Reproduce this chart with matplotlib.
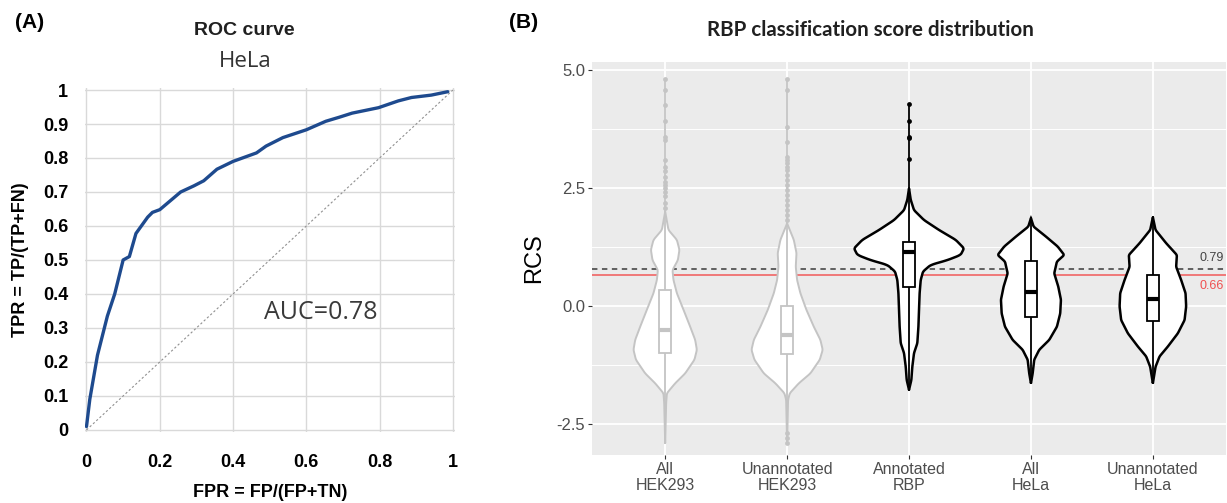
import numpy as np
import matplotlib
matplotlib.use("Agg")
import matplotlib.pyplot as plt

# ---------------- Data: ROC curve (panel A) ----------------
roc_fpr = [0.0, 0.009, 0.03, 0.057, 0.077, 0.10, 0.117, 0.135, 0.167, 0.18, 0.20,
           0.257, 0.293, 0.32, 0.356, 0.40, 0.464, 0.49, 0.536, 0.60, 0.653, 0.69,
           0.725, 0.797, 0.851, 0.887, 0.941, 0.986]
roc_tpr = [0.01, 0.09, 0.22, 0.335, 0.40, 0.50, 0.51, 0.578, 0.626, 0.64, 0.648,
           0.70, 0.718, 0.733, 0.767, 0.79, 0.815, 0.835, 0.86, 0.883, 0.908, 0.92,
           0.932, 0.948, 0.968, 0.978, 0.985, 0.995]
roc_ticks = [0, 0.1, 0.2, 0.3, 0.4, 0.5, 0.6, 0.7, 0.8, 0.9, 1]
roc_xticks = [0, 0.2, 0.4, 0.6, 0.8, 1]
roc_xtick_labels = ["0", "0.2", "0.4", "0.6", "0.8", "1"]
roc_ytick_labels = ["0", "0.1", "0.2", "0.3", "0.4", "0.5", "0.6", "0.7", "0.8", "0.9", "1"]
auc_text = "AUC=0.78"

# ---------------- Data: violins (panel B) ----------------
categories = ["All\nHEK293", "Unannotated\nHEK293", "Annotated\nRBP", "All\nHeLa", "Unannotated\nHeLa"]

hek_all_y = [2.0, 1.61, 1.40, 1.19, 0.97, 0.76, 0.55, 0.27, -0.08, -0.44, -0.72, -0.93, -1.14, -1.43, -1.64, -1.85, -2.06, -2.91]
hek_all_w = [0.0, 0.027, 0.096, 0.117, 0.104, 0.060, 0.068, 0.096, 0.150, 0.205, 0.246, 0.260, 0.240, 0.164, 0.082, 0.014, 0.008, 0.0]

hek_un_y = [1.75, 1.61, 1.40, 1.12, 0.83, 0.55, 0.27, -0.08, -0.44, -0.72, -0.93, -1.14, -1.43, -1.64, -1.85, -1.99, -2.91]
hek_un_w = [0.0, 0.022, 0.055, 0.077, 0.071, 0.082, 0.109, 0.158, 0.219, 0.273, 0.292, 0.268, 0.191, 0.096, 0.022, 0.008, 0.0]

rbp_y = [2.49, 2.25, 2.03, 1.82, 1.61, 1.40, 1.22, 1.08, 0.97, 0.87, 0.73, 0.55, 0.27, -0.08, -0.44, -0.79, -1.00, -1.29, -1.57, -1.78]
rbp_w = [0.0, 0.014, 0.041, 0.123, 0.246, 0.383, 0.451, 0.423, 0.314, 0.178, 0.115, 0.096, 0.087, 0.082, 0.077, 0.068, 0.041, 0.027, 0.019, 0.0]

hela_all_y = [1.86, 1.68, 1.47, 1.26, 1.08, 0.94, 0.69, 0.41, 0.13, -0.16, -0.44, -0.72, -0.93, -1.14, -1.43, -1.64]
hela_all_w = [0.0, 0.022, 0.123, 0.219, 0.273, 0.213, 0.191, 0.224, 0.246, 0.240, 0.213, 0.150, 0.068, 0.027, 0.014, 0.0]

hela_un_y = [1.88, 1.61, 1.33, 1.08, 0.83, 0.55, 0.27, -0.01, -0.30, -0.58, -0.86, -1.07, -1.29, -1.64]
hela_un_w = [0.0, 0.022, 0.109, 0.197, 0.191, 0.232, 0.268, 0.273, 0.260, 0.205, 0.123, 0.055, 0.022, 0.0]

violin_y = [hek_all_y, hek_un_y, rbp_y, hela_all_y, hela_un_y]
violin_w = [hek_all_w, hek_un_w, rbp_w, hela_all_w, hela_un_w]

box_q1 = [-0.99, -1.02, 0.40, -0.23, -0.31]
box_med = [-0.51, -0.61, 1.14, 0.29, 0.15]
box_q3 = [0.34, 0.00, 1.36, 0.96, 0.66]
whisk_lo = [-2.91, -1.99, -1.78, -1.64, -1.64]
whisk_hi = [2.0, 1.75, 2.49, 1.86, 1.88]

outliers = [
    [4.82, 4.58, 4.26, 3.91, 3.59, 3.52, 3.09, 2.95, 2.85, 2.74, 2.63, 2.56, 2.49, 2.42, 2.33, 2.18, 2.07],
    [4.82, 4.58, 3.80, 3.48, 3.16, 3.09, 3.02, 2.95, 2.88, 2.78, 2.67, 2.56, 2.46, 2.35, 2.25, 2.14, 2.03, 1.93, 1.82, -2.70, -2.80, -2.91],
    [4.27, 3.91, 3.59, 3.55, 3.11],
    [],
    [],
]
series_colors = ["#c4c4c4", "#c4c4c4", "black", "black", "black"]

thresh_best = 0.79
thresh_red = 0.66
y_ticks_b = [-2.5, 0.0, 2.5, 5.0]
y_minor_b = [-1.25, 1.25, 3.75]

# ---------------- Figure ----------------
fig = plt.figure(figsize=(12.27, 5.03), dpi=100)
fig.patch.set_facecolor("white")

# ===== Panel A =====
axA = fig.add_axes([0.0693, 0.1412, 0.3016, 0.6839])
axA.set_xlim(-0.004, 1.006)
axA.set_ylim(-0.006, 1.006)
for s in axA.spines.values():
    s.set_visible(False)
axA.set_xticks(roc_xticks)
axA.set_xticklabels(roc_xtick_labels, fontsize=13, fontweight="bold", family="Liberation Sans")
axA.set_yticks(roc_ticks)
axA.set_yticklabels(roc_ytick_labels, fontsize=13, fontweight="bold", family="Liberation Sans")
axA.tick_params(length=0, pad=12)
axA.tick_params(axis="x", pad=16)
axA.grid(True, color="#d9d9d9", lw=1.0)
axA.set_axisbelow(True)
axA.plot([0, 1], [0, 1], ls=(0, (2, 2)), color="#909090", lw=0.8)
axA.plot(roc_fpr, roc_tpr, color="#1e4a8e", lw=2.4, solid_capstyle="round")
axA.text(0.64, 0.345, auc_text, fontsize=18, family="Open Sans", color="#3a3a3a",
         ha="center", va="center")
axA.set_xlabel("FPR = FP/(FP+TN)", fontsize=13, fontweight="bold", family="Liberation Sans", labelpad=9)
axA.set_ylabel("TPR = TP/(TP+FN)", fontsize=13, fontweight="bold", family="Liberation Sans", labelpad=10)
fig.text(0.1995, 0.94, "ROC curve", fontsize=14, fontweight="bold", family="Liberation Sans",
         ha="center", va="center", color="#202020")
fig.text(0.1995, 0.878, "HeLa", fontsize=16, family="Open Sans", ha="center", va="center", color="#333333")
fig.text(0.012, 0.955, "(A)", fontsize=15, fontweight="bold", family="Liberation Sans", ha="left", va="center")

# ===== Panel B =====
axB = fig.add_axes([0.4825, 0.0954, 0.5167, 0.7813])
axB.set_facecolor("#EBEBEB")
for s in axB.spines.values():
    s.set_visible(False)
axB.set_xlim(0.4, 5.6)
axB.set_ylim(-3.16, 5.17)
positions = np.arange(1, len(categories) + 1)
for yv in y_ticks_b:
    axB.axhline(yv, color="white", lw=1.3, zorder=0)
for yv in y_minor_b:
    axB.axhline(yv, color="white", lw=0.7, zorder=0)
for xv in positions:
    axB.axvline(xv, color="white", lw=1.3, zorder=0)

axB.axhline(thresh_best, color="#555555", lw=1.3, ls=(0, (3, 2.5)), zorder=1)
axB.axhline(thresh_red, color="#f07878", lw=1.4, zorder=1)

for i, pos in enumerate(positions):
    col = series_colors[i]
    ys = np.array(violin_y[i])
    ws = np.array(violin_w[i])
    order = np.argsort(ys)
    grid = np.linspace(ys.min(), ys.max(), 400)
    w = np.interp(grid, ys[order], ws[order])
    k = np.ones(7) / 7
    wpad = np.pad(w, 3, mode="edge")
    w = np.convolve(wpad, k, mode="valid")
    w[0] = 0
    w[-1] = 0
    lwv = 1.4 if col != "black" else 1.8
    top = max([whisk_hi[i]] + [o for o in outliers[i]])
    bot = min([whisk_lo[i]] + [o for o in outliers[i]])
    axB.plot([pos, pos], [bot, top], color=col, lw=1.3, zorder=2)
    xs = np.concatenate([pos - w, (pos + w)[::-1]])
    yy = np.concatenate([grid, grid[::-1]])
    axB.fill(xs, yy, facecolor="white", edgecolor=col, lw=lwv, zorder=3)
    axB.plot([pos, pos], [whisk_lo[i], whisk_hi[i]], color=col, lw=1.3, zorder=4)
    bw = 0.05
    axB.add_patch(plt.Rectangle((pos - bw, box_q1[i]), 2 * bw, box_q3[i] - box_q1[i],
                                facecolor="white", edgecolor=col, lw=1.3, zorder=5))
    axB.plot([pos - bw, pos + bw], [box_med[i], box_med[i]], color=col, lw=3.0, zorder=6,
             solid_capstyle="butt")
    if outliers[i]:
        axB.scatter([pos] * len(outliers[i]), outliers[i], s=12, color=col, zorder=6, lw=0)

axB.set_xticks(positions)
axB.set_xticklabels(categories, fontsize=11.5, color="#4D4D4D", family="Liberation Sans", linespacing=1.05)
axB.set_yticks(y_ticks_b)
axB.set_yticklabels(["-2.5", "0.0", "2.5", "5.0"], fontsize=12, color="#4D4D4D", family="Liberation Sans")
axB.tick_params(axis="both", color="#333333", length=3, width=0.8, pad=2)
axB.set_ylabel("RCS", fontsize=17, family="Liberation Sans", labelpad=8)

axB.text(5.58, thresh_best + 0.1, "0.79", fontsize=9, color="#444444", ha="right", va="bottom",
         family="Liberation Sans")
axB.text(5.58, thresh_red - 0.1, "0.66", fontsize=9, color="#f05050", ha="right", va="top",
         family="Liberation Sans")

fig.text(0.709, 0.94, "RBP classification score distribution", fontsize=14.8, fontweight="bold",
         family="Lato", ha="center", va="center", color="#202020")
fig.text(0.415, 0.955, "(B)", fontsize=15, fontweight="bold", family="Liberation Sans", ha="left", va="center")

fig.savefig("out.png", dpi=100)
